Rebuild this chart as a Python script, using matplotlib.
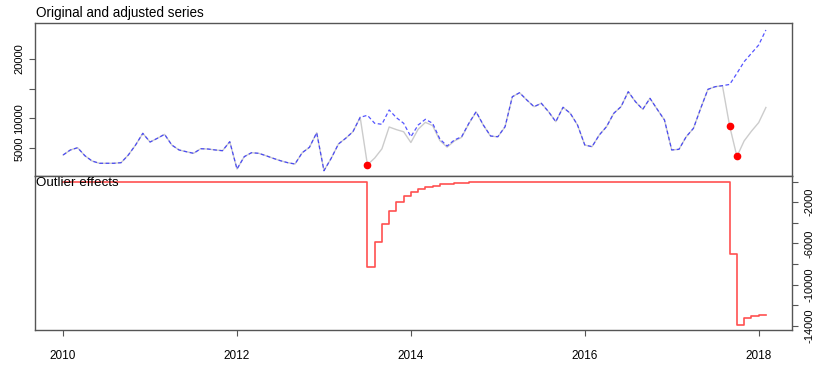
import matplotlib
matplotlib.use('Agg')
import matplotlib.pyplot as plt
import numpy as np

#Monthly data, Jan 2010 to Feb 2018
startYear = 2010
adjusted = [3880, 4720, 5100, 3760, 2870, 2490, 2490, 2490, 2590, 3880, 5550, 7510,
            6050, 6670, 7340, 5550, 4720, 4430, 4160, 4930, 4880, 4720, 4600, 6110,
            1530, 3600, 4260, 4160, 3760, 3320, 2920, 2590, 2370, 4260, 5170, 7610,
            1250, 3320, 5720, 6680, 7780, 10190, 10530, 9190, 9020, 11420, 10130, 9190,
            6940, 8900, 9860, 9190, 6550, 5390, 6390, 6940, 9190, 11130, 8900, 7060,
            6940, 8620, 13640, 14310, 13090, 11970, 12540, 11130, 9460, 11870, 10860, 8900,
            5550, 5270, 7230, 8620, 10860, 11970, 14480, 12800, 11530, 13370, 11530, 9740,
            4720, 4830, 6940, 8350, 11700, 14880, 15320, 15490, 15700, 17560, 19520, 20910,
            22300, 24820]
effects = [0] * 42 + [-8290, -5830, -4110, -2850, -2000, -1420, -970, -710, -515, -390,
                      -260, -190, -160, -110, -60, -45, -30, -25, -15, -10] \
          + [0] * 30 + [-7000, -13930, -13270, -13050, -13000, -12980]
outlierIdx = [42, 92, 93]

topTicks = [5000, 10000, 15000, 20000]
topTickLabels = ['5000', '10000', '', '20000']
effTicks = [0, -2000, -4000, -6000, -8000, -10000, -12000, -14000]
effTickLabels = ['', '-2000', '', '-6000', '', '-10000', '', '-14000']
yearTicks = [2010, 2012, 2014, 2016, 2018]

adjusted = np.array(adjusted, dtype=float)
effects = np.array(effects, dtype=float)
original = adjusted + effects
t = startYear + np.arange(len(adjusted)) / 12.0

plt.rcParams['font.family'] = ['Liberation Sans', 'DejaVu Sans']
tickSize = 8

W, H = 827, 365
fig = plt.figure(figsize=(W / 100, H / 100), dpi=100)
left, right = 35.3 / W, 791.7 / W
ax1 = fig.add_axes([left, 1 - 176 / H, right - left, (176 - 23.3) / H])
ax2 = fig.add_axes([left, 1 - 330 / H, right - left, (330 - 176) / H], sharex=ax1)

#Top panel: original (grey) under adjusted (blue dashed)
ax1.plot(t, original, color='#cccccc', lw=1.0, zorder=2)
ax1.plot(t, adjusted, color='#2a2aff', lw=0.9, ls=(0, (3, 2)), alpha=0.8, zorder=3)
ax1.plot(t[outlierIdx], original[outlierIdx], 'o', color='red', ms=4.5, mec='red', zorder=4)
ax1.set_ylim(360, 25940)
ax1.set_yticks(topTicks)
ax1.set_yticklabels(topTickLabels, rotation=90, va='center', fontsize=tickSize)
ax1.tick_params(axis='y', length=4.3, width=0.8, color='#555555', pad=3.5)
ax1.tick_params(axis='x', bottom=False, labelbottom=False)

#Bottom panel: outlier effects as steps
ax2.plot(t, effects, color='#ff5050', lw=1.2, drawstyle='steps-post')
ax2.set_ylim(-14412, 554)
ax2.yaxis.tick_right()
ax2.set_yticks(effTicks)
ax2.set_yticklabels(effTickLabels, rotation=90, va='center', fontsize=tickSize)
ax2.tick_params(axis='y', length=4.6, width=0.8, color='#555555', pad=4.7)
ax2.set_xlim(2009.68, 2018.38)
ax2.set_xticks(yearTicks)
ax2.set_xticklabels([str(y) for y in yearTicks], fontsize=tickSize + 0.5)
ax2.tick_params(axis='x', length=4.1, width=0.8, color='#555555', pad=10)

for ax in (ax1, ax2):
    for s in ax.spines.values():
        s.set_color('#555555')
        s.set_linewidth(1.0)

fig.text(35.5 / W, 1 - 16.5 / H, 'Original and adjusted series', fontsize=9.75, va='baseline', ha='left')
fig.text(35.7 / W, 1 - 186.5 / H, 'Outlier effects', fontsize=9.6, va='baseline', ha='left')

fig.savefig('out.png', dpi=100)
